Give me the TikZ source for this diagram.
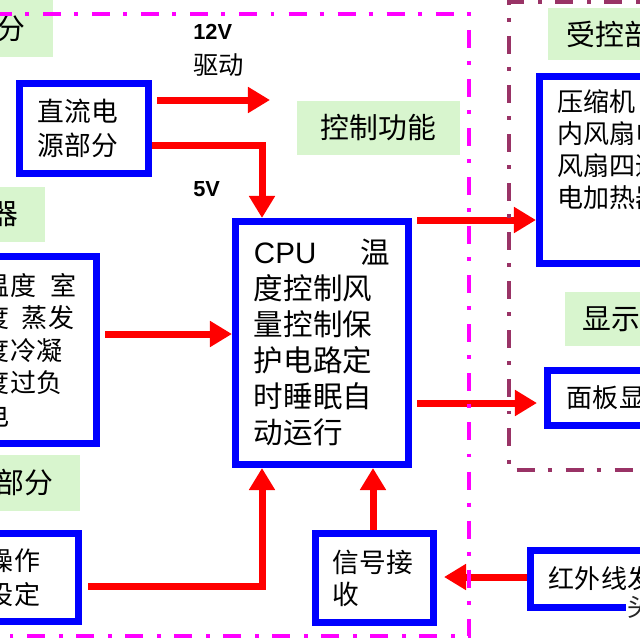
\documentclass[tikz,border=0pt]{standalone}
\usepackage{fontspec}
\setmainfont{Noto Sans CJK SC}
\newfontfamily\arial{Liberation Sans}
\usepackage{tikz}
\usetikzlibrary{arrows.meta}

\definecolor{lgreen}{RGB}{216,245,206}
\definecolor{zonemag}{RGB}{255,0,255}
\definecolor{zonepurple}{RGB}{153,51,102}

\begin{document}
\begin{tikzpicture}[x=0.025cm, y=-0.025cm,
		blk/.style={draw=blue, line width=0.175cm, fill=white, inner sep=0pt, align=left},
		lbl/.style={fill=lgreen, inner sep=0pt, font=\fontsize{20.5}{24}\selectfont},
		arr/.style={draw=red, line width=0.175cm, -{Triangle[length=0.55cm, width=0.62cm]}},
		zone/.style={line width=3.2pt, dash pattern=on 12.8pt off 9.3pt on 2.8pt off 10pt}]
			\path[use as bounding box] (0,0) rectangle (640,640);
			\clip (0,0) rectangle (640,640);
			\fill[white] (0,0) rectangle (640,640);

			% green titles
			\node[lbl, minimum width=2.825cm, minimum height=1.425cm, text width=1.425cm, align=right] (lpwr) at (-3.5, 28.5) {分};
			\node[lbl, minimum width=2.625cm, minimum height=1.375cm, text width=1.275cm, align=right] (lsen) at (-7.5, 214.5) {器};
			\node[lbl, minimum width=4.075cm, minimum height=1.35cm] (lfun) at (378.5, 128) {控制功能};
			\node[lbl, minimum width=5.3cm, minimum height=1.3cm, text width=4.35cm, align=left] (lout) at (654, 34) {受控部};
			\node[lbl, minimum width=3.5cm, minimum height=1.4cm, text width=2.15cm, align=right] (lop) at (10, 483) {部分};
			\node[lbl, minimum width=4.875cm, minimum height=1.35cm, text width=3.975cm, align=left] (ldsp) at (662.5, 319) {显示};

			% blue blocks
			\node[blk, minimum width=3.225cm, minimum height=2.25cm, text width=2.3cm, font=\fontsize{19}{24.2}\selectfont] (psu) at (84, 128.5) {直流电\\源部分};
			\node[blk, minimum width=4.325cm, minimum height=6.075cm, text width=3.4cm, font=\fontsize{21}{25.6}\selectfont] (cpu) at (322, 343) {{\arial CPU}\hfill 温\\度控制风\\量控制保\\护电路定\\时睡眠自\\动运行};
			\node[blk, minimum width=2.825cm, minimum height=4.675cm, text width=2.8cm, font=\fontsize{18.5}{23.1}\selectfont] (sen) at (40, 350) {温度\kern0.35cm 室\\度\kern0.3cm 蒸发\\度冷凝\\度过负\\电};
			\node[blk, minimum width=5.525cm, minimum height=4.675cm] (ctrl) at (650, 170) {};
			\node[anchor=north west, inner sep=0pt, align=left, font=\fontsize{18.5}{22.8}\selectfont] (ctrltxt) at (557, 89) {压缩机\\内风扇电\\风扇四通\\电加热器};
			\node[blk, minimum width=5.125cm, minimum height=1.375cm, text width=4.15cm, font=\fontsize{18.5}{22}\selectfont] (panel) at (650, 398) {面板显};
			\node[blk, minimum width=2.425cm, minimum height=2.2cm, text width=2.1cm, font=\fontsize{18.5}{24.2}\selectfont] (oper) at (30, 577.5) {操作\\设定};
			\node[blk, minimum width=2.95cm, minimum height=2.225cm, text width=2.075cm, font=\fontsize{19}{22.8}\selectfont] (recv) at (374.5, 578) {信号接\\收};
			\node[blk, minimum width=5.975cm, minimum height=1.425cm, text width=5.05cm, font=\fontsize{18.5}{22}\selectfont] (ir) at (650, 579) {红外线发};
			\node[fill=white, inner sep=1pt, anchor=west, text=black!85, font=\fontsize{18}{18}\selectfont] (mark) at (626, 607) {头};

			% voltages
			\node[anchor=west, inner sep=0pt, font=\arial\bfseries\fontsize{15.5}{18}\selectfont] (v12) at (193, 32) {12V};
			\node[anchor=west, inner sep=0pt, font=\fontsize{18}{20}\selectfont] (drv) at (193, 65) {驱动};
			\node[anchor=west, inner sep=0pt, font=\arial\bfseries\fontsize{15.5}{18}\selectfont] (v5) at (193, 189) {5V};

			\coordinate (tip12) at (270, 100);
			\draw [arr, shorten <=0.125cm] (psu.east |- tip12) to (tip12);
			\draw [arr] (psu.east |- 0,145) -| (cpu.north -| 262,0);
			\draw [arr, shorten <=0.125cm] (sen.east |- 0,334) to (cpu.west |- 0,334);
			\draw [arr, shorten <=0.125cm] (cpu.east |- 0,220) to (ctrl.west |- 0,220);
			\draw [arr, shorten <=0.125cm, shorten >=0.175cm] (cpu.east |- 0,403) to (panel.west |- 0,403);
			\draw [arr, shorten <=0.15cm] (oper.east |- 0,586) -| (cpu.south -| 262,0);
			\draw [arr] (recv.north -| 373,0) to (cpu.south -| 373,0);
			\draw [arr, shorten >=0.175cm] (ir.west |- 0,577) to (recv.east |- 0,577);

			% dash-dot zones
			\draw [zone, draw=zonemag, dash phase=24.9pt] (-20,14) -- (469,14) -- (469,636) -- (-20,636);
			\draw [zone, draw=zonepurple] (720,1.5) -- (509,1.5) -- (509,470) -- (720,470);
		\end{tikzpicture}
\end{document}
